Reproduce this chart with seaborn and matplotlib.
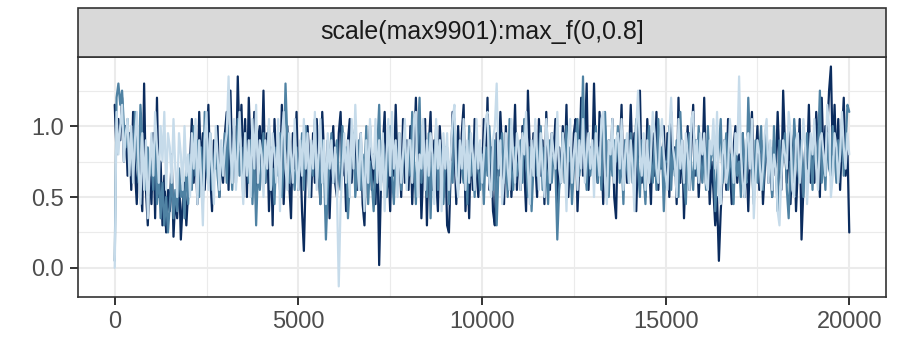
import pandas as pd
import matplotlib
matplotlib.use("Agg")
import matplotlib.pyplot as plt
import seaborn as sns
from matplotlib.patches import Rectangle

# Trace values, one value every 50 iterations
iterations = list(range(0, 20001, 50))

chain_1 = [
    1.15,
    0.80, 1.05, 0.90, 1.20, 0.75, 1.00, 0.65, 0.95, 0.55, 1.10, 0.70, 0.45, 0.85, 0.60, 0.40, 1.30, 0.55, 0.30, 0.70, 0.45,
    0.95, 0.35, 1.20, 0.50, 0.75, 0.30, 0.65, 0.25, 0.55, 0.40, 0.80, 0.22, 0.50, 0.35, 0.70, 0.20, 0.45, 0.60, 0.30, 0.55,
    0.75, 1.05, 0.60, 0.90, 0.45, 1.10, 0.70, 0.95, 0.55, 0.85, 1.15, 0.65, 0.40, 0.90, 0.70, 1.00, 0.50, 0.80, 0.60, 0.95,
    1.10, 0.55, 1.25, 0.75, 1.00, 0.60, 1.35, 0.85, 1.15, 0.70, 1.05, 0.50, 1.20, 0.80, 0.65, 1.10, 0.45, 0.90, 1.00, 0.70,
    1.25, 0.60, 0.95, 0.40, 0.85, 0.30, 1.05, 0.70, 0.90, 0.55, 1.15, 0.45, 0.80, 1.00, 0.60, 0.35, 0.95, 0.70, 1.10, 0.55,
    0.85, 0.40, 0.12, 0.65, 1.00, 0.75, 0.50, 0.95, 0.60, 1.05, 0.70, 0.45, 1.10, 0.80, 0.55, 0.90, 0.35, 0.75, 1.00, 0.60,
    0.50, 0.95, 1.10, 0.65, 0.80, 0.40, 0.90, 1.05, 0.60, 0.85, 1.00, 0.55, 0.75, 0.95, 0.45, 0.30, 0.85, 0.70, 1.00, 0.55,
    0.80, 0.45, 0.90, 0.02, 0.60, 0.85, 1.10, 0.50, 0.75, 0.40, 0.95, 0.65, 1.15, 0.70, 0.85, 0.50, 1.05, 0.60, 0.90, 0.55,
    1.00, 0.45, 0.80, 1.20, 0.60, 0.95, 0.35, 0.70, 1.05, 0.30, 0.85, 1.10, 0.55, 0.90, 0.65, 0.40, 1.00, 0.75, 0.50, 0.85,
    0.30, 0.25, 0.70, 1.10, 0.85, 0.45, 1.00, 0.60, 0.95, 1.15, 0.40, 0.75, 0.35, 0.90, 0.55, 1.05, 0.70, 0.50, 0.85, 0.60,
    1.05, 0.70, 1.20, 0.55, 0.85, 0.40, 0.30, 0.95, 0.65, 1.10, 0.80, 0.45, 1.00, 0.60, 0.90, 0.50, 0.75, 1.15, 0.55, 0.85,
    0.55, 1.00, 0.70, 0.40, 1.25, 0.85, 0.60, 0.95, 0.75, 0.50, 1.05, 0.65, 0.90, 0.45, 1.10, 0.70, 0.55, 0.95, 0.80, 1.05,
    0.45, 0.85, 0.60, 1.00, 0.70, 1.15, 0.50, 0.80, 0.55, 0.95, 1.05, 0.40, 0.75, 1.20, 0.65, 0.90, 1.30, 0.55, 0.85, 0.70,
    1.30, 0.75, 0.60, 1.10, 0.85, 0.45, 1.00, 0.65, 0.90, 0.70, 1.05, 0.50, 0.35, 0.95, 0.80, 1.15, 0.55, 0.90, 0.60, 0.75,
    1.15, 0.70, 0.95, 0.40, 0.85, 1.25, 0.60, 0.80, 0.50, 1.05, 0.75, 0.45, 0.95, 0.65, 1.10, 0.55, 0.85, 0.70, 1.00, 0.60,
    0.95, 0.50, 1.10, 0.70, 0.85, 0.45, 1.20, 0.60, 0.90, 0.35, 0.75, 1.00, 0.55, 0.85, 1.15, 0.65, 0.90, 0.50, 0.80, 0.70,
    1.20, 0.60, 0.85, 0.45, 0.75, 0.55, 0.30, 0.50, 0.05, 0.40, 0.65, 0.90, 0.55, 1.05, 0.70, 0.45, 0.85, 1.00, 0.60, 0.80,
    0.70, 0.95, 0.50, 0.80, 0.40, 0.85, 1.10, 0.60, 0.75, 1.00, 0.55, 0.90, 0.45, 0.70, 0.95, 0.60, 0.80, 0.50, 0.90, 0.65,
    1.10, 0.75, 0.55, 1.25, 0.85, 0.60, 1.00, 0.45, 0.80, 0.95, 0.40, 0.70, 1.05, 0.20, 0.55, 0.85, 0.70, 1.15, 0.60, 0.90,
    0.60, 1.10, 0.85, 0.50, 1.20, 0.75, 1.00, 0.95, 1.25, 1.42, 0.80, 1.15, 0.70, 1.05, 0.55, 0.90, 1.20, 0.65, 0.85, 0.25,
]

chain_2 = [
    0.05,
    1.20, 1.30, 1.15, 1.25, 1.00, 0.85, 1.05, 0.75, 0.95, 0.65, 1.10, 0.80, 0.60, 1.15, 0.90, 0.70, 0.55, 0.85, 0.65, 0.75,
    0.55, 0.90, 0.45, 0.70, 0.35, 0.60, 0.30, 0.50, 0.25, 0.45, 0.65, 0.35, 0.55, 0.40, 0.70, 0.50, 0.60, 0.35, 0.75, 0.45,
    0.80, 0.55, 1.00, 0.65, 0.90, 0.50, 0.85, 0.45, 1.10, 0.70, 0.60, 0.95, 0.55, 0.75, 0.90, 0.65, 0.50, 0.85, 0.70, 0.95,
    0.60, 1.00, 0.80, 0.55, 0.90, 0.70, 1.05, 0.65, 0.85, 0.50, 0.95, 0.75, 0.60, 0.90, 0.45, 0.80, 0.30, 0.70, 0.55, 0.75,
    0.95, 0.60, 0.80, 1.00, 0.55, 0.70, 0.45, 0.85, 0.65, 0.95, 0.50, 0.75, 1.30, 0.90, 0.60, 0.80, 0.70, 0.55, 0.85, 0.65,
    0.70, 0.95, 0.55, 1.00, 0.75, 0.50, 0.85, 0.65, 1.05, 0.60, 0.80, 0.45, 0.90, 0.70, 0.20, 0.55, 0.75, 0.95, 0.60, 0.80,
    0.90, 0.65, 0.55, 1.00, 0.75, 0.85, 0.35, 0.60, 0.85, 0.95, 0.50, 0.70, 0.90, 0.55, 0.80, 0.65, 1.00, 0.45, 0.75, 0.60,
    0.40, 0.70, 0.85, 1.15, 0.60, 0.90, 0.75, 0.50, 0.85, 1.00, 0.65, 0.45, 0.80, 0.70, 0.95, 0.55, 0.75, 0.90, 0.60, 0.85,
    0.65, 1.10, 0.75, 0.45, 0.90, 1.20, 0.60, 0.85, 0.70, 0.50, 0.95, 0.35, 0.80, 0.65, 1.00, 0.55, 0.90, 0.70, 0.45, 0.75,
    0.85, 0.45, 0.75, 0.60, 1.05, 0.80, 0.55, 0.90, 0.70, 0.60, 0.85, 0.45, 1.00, 0.65, 0.80, 0.50, 0.95, 0.70, 0.55, 0.80,
    0.45, 0.85, 0.65, 1.00, 0.75, 0.55, 0.90, 0.30, 0.70, 0.85, 0.95, 0.60, 0.80, 0.50, 1.05, 0.70, 0.55, 0.85, 0.65, 0.75,
    0.90, 0.60, 1.05, 0.75, 0.50, 0.85, 0.40, 0.70, 0.95, 0.65, 0.80, 1.00, 0.55, 0.85, 0.70, 0.45, 0.90, 0.60, 0.80, 0.70,
    0.20, 0.55, 0.70, 0.95, 0.60, 1.00, 0.75, 0.85, 0.45, 0.70, 0.90, 1.05, 0.65, 0.80, 1.35, 0.75, 0.55, 0.95, 0.65, 0.85,
    0.80, 1.00, 0.60, 0.85, 0.55, 0.95, 1.10, 0.70, 0.50, 0.85, 0.65, 0.90, 0.75, 1.00, 0.60, 0.80, 0.45, 0.90, 0.70, 0.60,
    0.95, 0.60, 0.80, 1.05, 0.70, 0.50, 0.90, 0.65, 0.45, 0.85, 1.00, 0.75, 0.60, 0.90, 0.55, 1.05, 0.70, 0.85, 0.40, 0.75,
    0.75, 1.00, 0.55, 0.85, 0.65, 0.90, 0.50, 1.10, 0.75, 0.60, 0.45, 0.85, 0.95, 0.70, 0.55, 0.90, 0.65, 1.00, 0.75, 0.60,
    0.85, 0.55, 1.00, 0.70, 0.80, 0.90, 0.40, 0.65, 0.85, 1.05, 0.60, 0.75, 0.95, 0.55, 0.80, 0.70, 0.45, 0.90, 0.65, 0.75,
    0.50, 0.95, 0.70, 0.60, 1.20, 0.85, 0.70, 0.45, 0.90, 0.60, 0.80, 1.00, 0.55, 0.75, 0.95, 0.65, 0.85, 0.50, 1.00, 0.70,
    0.40, 0.90, 0.65, 0.80, 0.95, 0.55, 0.35, 0.75, 0.60, 1.05, 0.85, 0.70, 0.60, 0.90, 0.50, 0.80, 0.95, 0.65, 0.85, 0.55,
    0.95, 0.70, 0.85, 1.25, 0.60, 0.80, 0.55, 0.95, 0.70, 0.65, 1.00, 0.80, 0.60, 0.90, 0.75, 1.05, 0.65, 0.85, 1.15, 1.10,
]

chain_3 = [
    0.00,
    1.10, 0.80, 1.00, 1.15, 0.75, 0.95, 1.05, 0.65, 1.00, 0.60, 0.90, 1.10, 0.70, 0.45, 0.95, 0.55, 0.90, 0.35, 0.70, 0.95,
    0.65, 1.10, 0.85, 0.60, 1.00, 0.75, 1.10, 0.55, 0.95, 0.85, 0.60, 1.05, 0.70, 0.50, 0.95, 0.80, 0.55, 1.00, 0.65, 0.80,
    0.50, 0.95, 0.70, 1.05, 0.45, 0.90, 0.65, 0.30, 0.90, 1.10, 0.55, 0.95, 0.70, 0.45, 1.00, 0.80, 0.55, 0.90, 0.65, 0.85,
    0.95, 1.35, 0.85, 0.60, 1.05, 0.55, 0.80, 1.10, 0.70, 0.45, 0.95, 0.65, 0.90, 0.50, 1.05, 0.70, 1.15, 0.60, 0.90, 0.80,
    0.50, 0.90, 0.70, 1.05, 0.55, 0.95, 0.80, 0.60, 1.05, 0.40, 0.90, 1.10, 0.70, 0.55, 0.95, 0.80, 0.60, 1.05, 0.70, 0.55,
    0.90, 0.65, 1.05, 0.70, 0.95, 0.50, 0.90, 0.70, 1.10, 0.55, 0.80, 1.05, 0.60, 0.90, 0.45, 0.95, 0.70, 0.90, 0.60, 0.85,
    0.55, -0.13, 0.45, 0.70, 0.95, 0.60, 0.90, 0.50, 1.05, 0.70, 1.15, 0.80, 0.55, 0.95, 0.70, 0.40, 0.90, 0.60, 1.05, 0.80,
    0.70, 1.05, 0.60, 0.90, 0.55, 0.95, 0.40, 0.80, 1.05, 0.65, 1.10, 0.70, 0.90, 0.50, 0.95, 0.60, 0.80, 1.05, 0.55, 0.90,
    0.90, 0.60, 1.05, 1.10, 0.50, 0.80, 0.70, 1.05, 0.55, 0.90, 0.65, 0.95, 0.80, 0.45, 1.05, 0.70, 0.90, 0.40, 0.95, 0.70,
    0.95, 0.55, 0.80, 1.05, 1.15, 0.65, 0.50, 0.90, 0.70, 1.05, 0.55, 0.90, 0.60, 0.95, 0.80, 0.55, 1.05, 0.70, 0.90, 0.60,
    0.80, 1.05, 1.10, 0.60, 0.50, 0.90, 1.00, 1.30, 0.70, 0.90, 0.45, 0.65, 0.95, 0.70, 0.55, 1.05, 0.80, 0.60, 0.95, 0.85,
    0.55, 0.95, 0.80, 1.10, 0.70, 0.45, 0.90, 0.65, 1.05, 0.80, 0.55, 0.95, 0.70, 0.50, 1.05, 0.85, 0.60, 0.95, 0.80, 0.70,
    1.10, 0.70, 0.60, 0.95, 0.80, 0.40, 0.90, 1.05, 0.60, 0.80, 0.95, 0.55, 0.90, 0.70, 1.05, 0.60, 0.80, 0.95, 0.70, 0.90,
    0.50, 0.95, 0.80, 0.65, 1.05, 1.10, 0.60, 0.45, 0.90, 0.80, 1.05, 0.60, 0.90, 0.95, 0.70, 1.05, 0.55, 0.80, 0.95, 0.60,
    0.90, 0.70, 0.40, 1.00, 1.25, 0.80, 0.65, 0.95, 0.55, 0.90, 0.60, 0.80, 1.10, 0.95, 0.70, 0.60, 0.90, 1.05, 0.80, 0.65,
    0.55, 0.95, 1.20, 0.85, 0.75, 0.50, 1.05, 0.70, 0.90, 0.60, 0.95, 0.80, 0.55, 1.05, 1.10, 0.70, 0.90, 0.60, 0.95, 0.80,
    0.95, 0.60, 0.55, 0.90, 0.80, 1.05, 0.70, 1.10, 0.50, 0.45, 0.80, 0.90, 0.60, 0.70, 1.05, 0.85, 0.60, 0.95, 0.80, 1.35,
    0.80, 0.60, 0.50, 0.90, 0.95, 0.70, 1.05, 0.35, 0.65, 0.90, 0.80, 0.55, 0.70, 0.95, 1.05, 0.60, 0.90, 0.55, 0.80, 0.70,
    0.40, 0.30, 0.65, 0.90, 0.80, 0.70, 1.10, 0.95, 0.55, 0.50, 0.90, 0.95, 0.60, 0.80, 1.05, 0.85, 0.45, 0.70, 0.95, 0.80,
    1.05, 0.70, 0.55, 0.90, 0.95, 0.80, 0.65, 1.15, 1.00, 0.50, 0.65, 0.95, 0.85, 0.60, 0.80, 1.10, 0.85, 0.70, 0.95, 0.80,
]

chain_names = ["1", "2", "3"]
chain_colors = ["#0b2c5e", "#4f82a3", "#c6dbea"]
strip_label = "scale(max9901):max_f(0,0.8]"

df = pd.DataFrame({
    "iteration": iterations * 3,
    "value": chain_1 + chain_2 + chain_3,
    "chain": [c for c, vals in zip(chain_names, [chain_1, chain_2, chain_3]) for _ in vals],
})

sns.set_style("white")
plt.rcParams["font.family"] = ["Liberation Sans", "DejaVu Sans"]

W, H = 899, 338
# panel in pixels: left 78, right 886, top 57, bottom 297
fig = plt.figure(figsize=(W / 100, H / 100), dpi=100)
ax = fig.add_axes([78 / W, (H - 297) / H, 808 / W, 240 / H])

sns.lineplot(data=df, x="iteration", y="value", hue="chain", palette=chain_colors,
             hue_order=chain_names, legend=False, linewidth=1.6, ax=ax, zorder=3)

ax.set_xlim(-1000, 21000)
ax.set_ylim(-0.205, 1.487)
ax.set_xticks([0, 5000, 10000, 15000, 20000])
ax.set_xticks([2500, 7500, 12500, 17500], minor=True)
ax.set_yticks([0.0, 0.5, 1.0])
ax.set_yticklabels(["0.0", "0.5", "1.0"])
ax.set_yticks([0.25, 0.75, 1.25], minor=True)
ax.grid(which="major", color="#ebebeb", linewidth=1.5, zorder=0)
ax.grid(which="minor", color="#ebebeb", linewidth=0.8, zorder=0)
ax.set_axisbelow(True)
ax.set_xlabel("")
ax.set_ylabel("")
for s in ax.spines.values():
    s.set_color("#333333")
    s.set_linewidth(1.2)
ax.tick_params(which="major", length=6, width=1.4, color="#333333",
               labelcolor="#4d4d4d", labelsize=17, pad=4)
ax.tick_params(which="minor", length=0)
ax.tick_params(axis="x", bottom=True)
ax.tick_params(axis="y", left=True)

# facet strip on top of the panel (pixels 8..57 from the top)
strip = Rectangle((78 / W, (H - 57) / H), 808 / W, 49 / H, transform=fig.transFigure,
                  facecolor="#d9d9d9", edgecolor="#333333", linewidth=1.2, zorder=5)
fig.patches.append(strip)
fig.text((78 + 404) / W, (H - 32.5) / H, strip_label, ha="center", va="center",
         fontsize=18, color="#1a1a1a", zorder=6)

fig.savefig("out.png", dpi=100)
